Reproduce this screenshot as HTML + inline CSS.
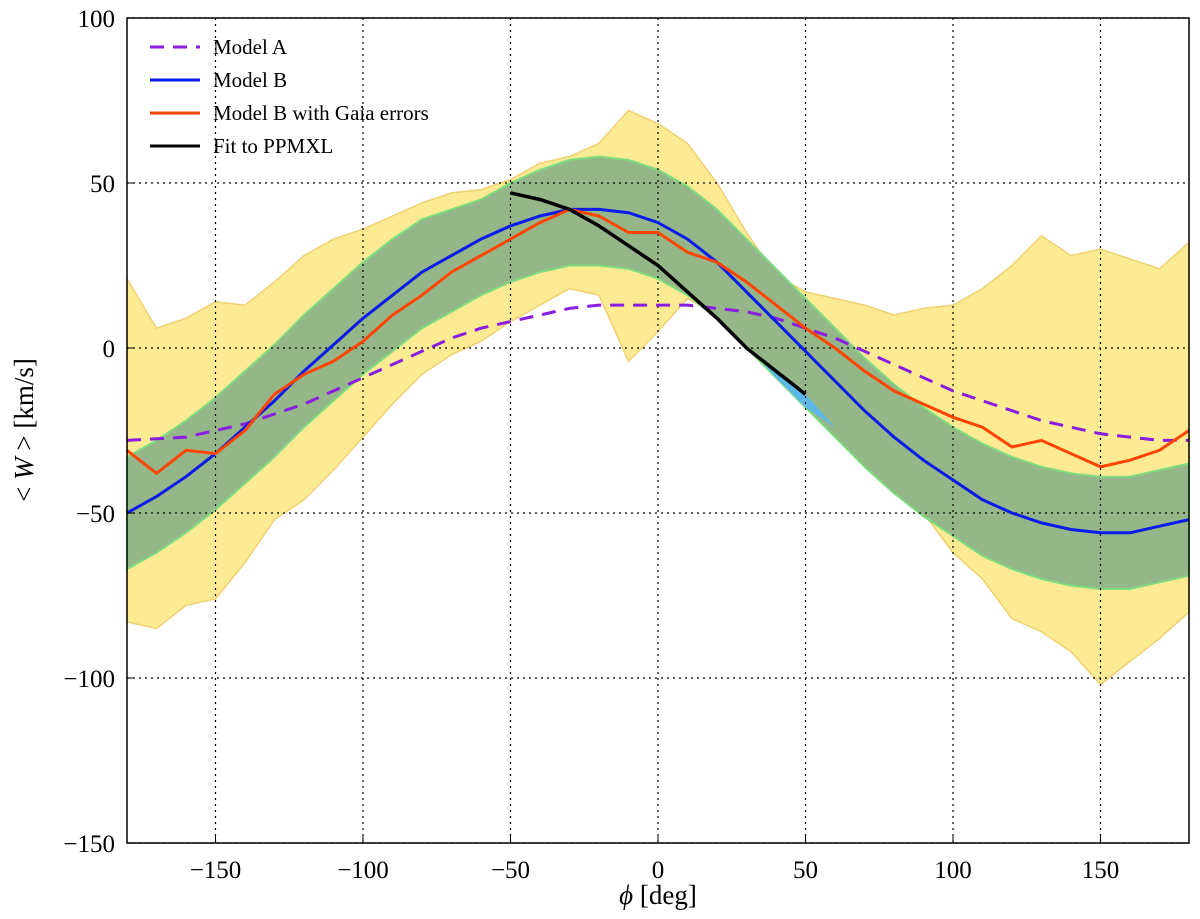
<!DOCTYPE html>
<html><head><meta charset="utf-8"><style>
body{margin:0;background:#fff}
svg{display:block;font-family:"Liberation Serif",serif}
</style></head><body>
<svg id="chart" width="1200" height="919"></svg>
<script>
const phi=[-180,-170,-160,-150,-140,-130,-120,-110,-100,-90,-80,-70,-60,-50,-40,-30,-20,-10,0,10,20,30,40,50,60,70,80,90,100,110,120,130,140,150,160,170,180];
const modelA=[-28,-27.5,-27,-25,-23,-20,-17,-13,-9,-5,-1,3,6,8,10,12,13,13,13,13,12,11,9,6,3,-1,-5,-9,-13,-16,-19,-22,-24,-26,-27,-28,-28];
const modelB=[-50,-45,-39,-32,-24,-16,-7,1,9,16,23,28,33,37,40,42,42,41,38,33,26,17,8,-1,-10,-19,-27,-34,-40,-46,-50,-53,-55,-56,-56,-54,-52];
const greenUpper=[-33,-28,-22,-15,-7,1,10,18,26,33,39,42,45,50,54,57,58,57,54,49,42,33,24,15,6,-3,-11,-18,-24,-29,-33,-36,-38,-39,-39,-37,-35];
const greenLower=[-67,-62,-56,-49,-41,-33,-24,-16,-8,-1,6,11,16,20,23,25,25,24,21,16,9,0,-9,-18,-27,-36,-44,-51,-57,-63,-67,-70,-72,-73,-73,-71,-69];
const yellowUpper=[21,6,9,14,13,20,28,33,36,40,44,47,48,51,56,58,62,72,68,62,50,35,22,17,15,13,10,12,13,18,25,34,28,30,27,24,32];
const yellowLower=[-83,-85,-78,-76,-65,-52,-46,-37,-27,-17,-8,-2,2,8,13,18,16,-4,5,15,10,3,-8,-18,-24,-30,-38,-50,-62,-70,-82,-86,-92,-102,-95,-88,-80];
const orange=[-31,-38,-31,-32,-25,-14,-8,-4,2,10,16,23,28,33,38,42,40,35,35,29,26,20,13,6,0,-7,-13,-17,-21,-24,-30,-28,-32,-36,-34,-31,-25];
const fitPhi=[-50,-40,-30,-20,-10,0,10,20,30,40,50];
const fitW=[47,45,42,37,31,25,17,9,0,-7,-14];
const bluePatchPhi=[33,40,50,60,50,40,33];
const bluePatchW=[-2,-7,-14,-24,-18,-9,-2];
const xTicks=[-150,-100,-50,0,50,100,150];
const yTicks=[-150,-100,-50,0,50,100];

const L=127,R=1189,T=18,B=843;
const X=v=>L+(v+180)/360*(R-L);
const Y=v=>T+(100-v)/250*(B-T);
const svg=document.getElementById('chart');
const NS='http://www.w3.org/2000/svg';
function mk(tag,attrs){const e=document.createElementNS(NS,tag);for(const k in attrs)e.setAttribute(k,attrs[k]);svg.appendChild(e);return e;}
function pts(xs,ys){return xs.map((x,i)=>X(x).toFixed(1)+','+Y(ys[i]).toFixed(1)).join(' ');}
function band(up,lo){return pts(phi,up)+' '+pts(phi.slice().reverse(),lo.slice().reverse());}

let e;
e=mk('polygon',{points:band(yellowUpper,yellowLower),fill:'#fdeb94',stroke:'#f0d070','stroke-width':1.5});


e=mk('polygon',{points:band(greenUpper,greenLower),fill:'#95b689',stroke:'#7edc7e','stroke-width':2});


e=mk('polygon',{points:pts(bluePatchPhi,bluePatchW),fill:'#5cb8e8',stroke:'none'});



xTicks.forEach(t=>{e=mk('line',{x1:X(t),x2:X(t),y1:T,y2:B,stroke:'#000','stroke-dasharray':'2,4','stroke-width':1.2});

});
yTicks.forEach(t=>{e=mk('line',{x1:L,x2:R,y1:Y(t),y2:Y(t),stroke:'#000','stroke-dasharray':'2,4','stroke-width':1.2});

});

e=mk('polyline',{points:pts(phi,modelA),fill:'none',stroke:'#8a1ee0','stroke-width':3,'stroke-dasharray':'14,9'});


e=mk('polyline',{points:pts(phi,modelB),fill:'none',stroke:'#0b1be8','stroke-width':3});


e=mk('polyline',{points:pts(phi,orange),fill:'none',stroke:'#ff4500','stroke-width':3});


e=mk('polyline',{points:pts(fitPhi,fitW),fill:'none',stroke:'#000','stroke-width':3.5});



e=mk('rect',{x:L,y:T,width:R-L,height:B-T,fill:'none',stroke:'#000','stroke-width':1.5});



xTicks.forEach(t=>{
 e=mk('line',{x1:X(t),x2:X(t),y1:B,y2:B-8,stroke:'#000'});
 
 
 e=mk('text',{x:X(t),y:B+35,'font-size':25,'text-anchor':'middle'});e.textContent=(t<0?'\u2212'+(-t):t);
 
 
});
yTicks.forEach(t=>{
 e=mk('line',{x1:L,x2:L+8,y1:Y(t),y2:Y(t),stroke:'#000'});
 
 
 e=mk('text',{x:L-12,y:Y(t)+9,'font-size':25,'text-anchor':'end'});e.textContent=(t<0?'\u2212'+(-t):t);
 
 
});
e=mk('text',{x:658,y:904,'font-size':27,'text-anchor':'middle'});
e.innerHTML='<tspan font-style="italic">\u03d5</tspan> [deg]';


e=mk('text',{x:0,y:0,'font-size':27,'text-anchor':'middle',transform:'translate(33,430) rotate(-90)'});
e.innerHTML='&lt; <tspan font-style="italic">W</tspan> &gt; [km/s]';



const legLabels=['Model A','Model B','Model B with Gaia errors','Fit to PPMXL'];
const legColors=['#8a1ee0','#0b1be8','#ff4500','#000'];
legLabels.forEach((lab,i)=>{
 const y=47+i*33;
 e=mk('line',{x1:150,x2:200,y1:y,y2:y,stroke:legColors[i],'stroke-width':3,'stroke-dasharray':i==0?'14,9':'none'});
 
 
 e=mk('text',{x:213,y:y+7,'font-size':21});e.textContent=lab;
 
 
});
</script>
</body></html>
